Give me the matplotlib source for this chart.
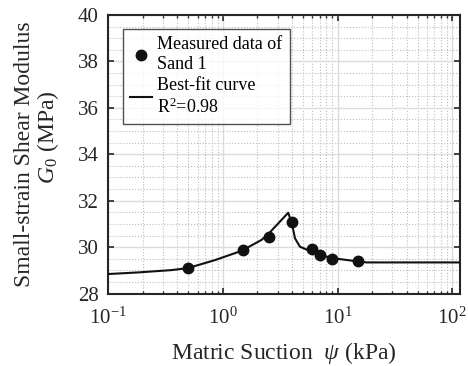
import matplotlib
matplotlib.use('Agg')
import matplotlib.pyplot as plt
from matplotlib.ticker import MultipleLocator, LogLocator

plt.rcParams['font.family'] = ['Liberation Serif', 'DejaVu Serif']
plt.rcParams['mathtext.fontset'] = 'custom'
plt.rcParams['mathtext.rm'] = 'Liberation Serif'
plt.rcParams['mathtext.it'] = 'Liberation Serif:italic'
plt.rcParams['axes.unicode_minus'] = False

suction = [0.5, 1.5, 2.5, 4.0, 6.0, 7.0, 9.0, 15.0]
modulus = [29.11, 29.86, 30.45, 31.08, 29.92, 29.67, 29.47, 29.39]

# best-fit curve, points
fit_suction = [0.1, 0.183, 0.357, 0.498, 0.851, 1.455, 2.17, 2.45, 3.71,
               3.85, 4.05, 4.25, 4.69, 5.93, 7.01, 9.16, 14.7, 17.9, 117]
fit_modulus = [28.84, 28.91, 29.01, 29.10, 29.44, 29.84, 30.31, 30.53, 31.48,
               31.25, 30.88, 30.38, 30.02, 29.80, 29.66, 29.52, 29.39, 29.34, 29.34]

fig = plt.figure(figsize=(4.68, 3.66), dpi=100)
ax = fig.add_axes([0.2314, 0.198, 0.7516, 0.761])

ax.plot(suction, modulus, 'o', color='#111111', markersize=7.5, label='Measured data of\nSand 1', zorder=4)
ax.plot(fit_suction, fit_modulus, '-', color='#111111', linewidth=1.5, label='Best-fit curve\nR$^2$=0.98', zorder=3)

ax.set_xscale('log')
ax.set_xlim(0.1, 117)
ax.set_ylim(28, 40)
ax.yaxis.set_major_locator(MultipleLocator(2))
ax.yaxis.set_minor_locator(MultipleLocator(0.5))
ax.xaxis.set_major_locator(LogLocator(base=10, numticks=10))
ax.xaxis.set_minor_locator(LogLocator(base=10, subs=range(2, 10), numticks=10))

ax.grid(True, which='major', color='#dcdcdc', linewidth=1.0)
ax.grid(True, which='minor', color='#bdbdbd', linestyle=':', linewidth=0.8)
ax.set_axisbelow(True)

ax.tick_params(which='both', direction='in', top=True, right=True, colors='#262626', labelsize=15)
ax.tick_params(axis='y', pad=7)
ax.tick_params(axis='x', pad=10)
ax.tick_params(which='major', length=4, width=1.2)
ax.tick_params(axis='x', which='minor', length=2.5, width=1.0)
ax.tick_params(axis='y', which='minor', length=0)
for sp in ax.spines.values():
    sp.set_color('#262626')
    sp.set_linewidth(1.5)

ax.set_xlabel('Matric Suction  $\\psi$ (kPa)', fontsize=17, color='#262626')
ax.xaxis.set_label_coords(0.5, -0.167)
ax.set_ylabel('Small-strain Shear Modulus\n      $\\mathit{G_0}$ (MPa)', fontsize=17, color='#262626',
              linespacing=1.0)
ax.yaxis.set_label_coords(-0.135, 0.5)

leg = ax.legend(loc='upper left', bbox_to_anchor=(0.263, 0.921), bbox_transform=fig.transFigure,
                fontsize=13, frameon=True, fancybox=False, edgecolor='#262626', borderaxespad=0,
                handlelength=1.2, handletextpad=0.3, borderpad=0.4, labelspacing=0.25)
leg.get_frame().set_linewidth(1.0)

fig.savefig('out.png', dpi=100)
